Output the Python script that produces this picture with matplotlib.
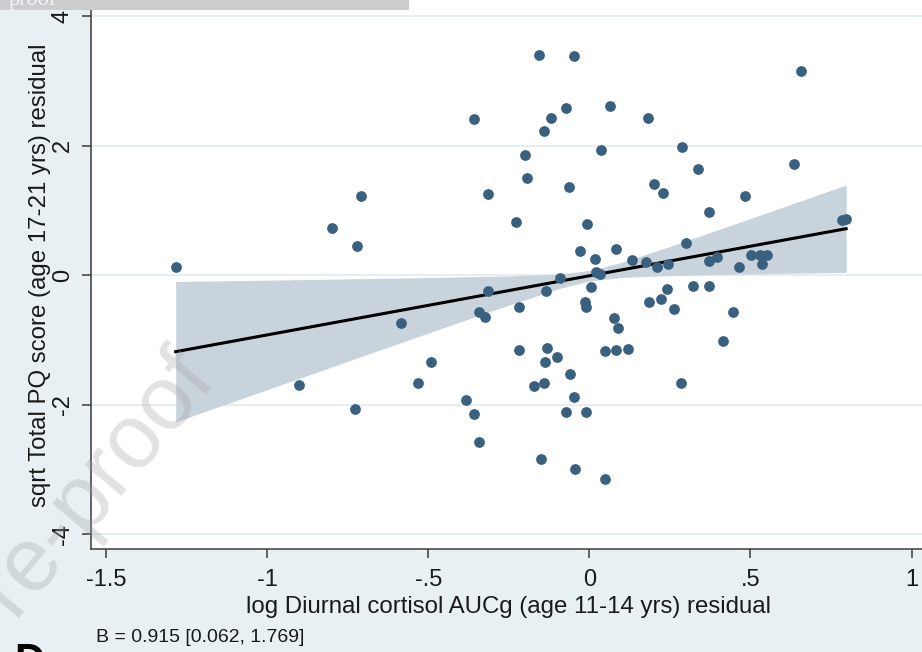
import matplotlib.pyplot as plt
from matplotlib.patches import Rectangle

plt.rcParams['font.family'] = ['Liberation Sans', 'DejaVu Sans']

# residuals
x = [-1.285, -0.800, -0.722, -0.710, -0.585, -0.901, -0.729, -0.533, -0.491,
     -0.158, -0.049, 0.658, -0.359, -0.119, -0.073, 0.065, 0.183, -0.142,
     -0.201, 0.037, 0.287, 0.336, 0.636, -0.195, -0.316, -0.065, 0.199,
     0.227, 0.483, -0.229, -0.009, 0.372, 0.784, 0.797, 0.299, -0.031,
     0.081, 0.016, 0.133, 0.175, 0.209, 0.245, 0.372, 0.395, 0.464, 0.502,
     0.530, 0.552, 0.536, 0.019, 0.033, -0.092, -0.314, -0.134, 0.004,
     0.240, 0.320, 0.372, 0.186, 0.221, 0.263, 0.447, -0.014, -0.012,
     -0.219, -0.342, -0.325, 0.077, 0.088, 0.416, -0.218, -0.131, -0.100,
     -0.137, 0.047, 0.082, 0.120, -0.061, 0.284, -0.171, -0.142, -0.384,
     -0.048, -0.360, -0.074, -0.011, -0.342, -0.152, -0.045, 0.049]
y = [0.133, 0.735, 0.453, 1.225, -0.741, -1.699, -2.069, -1.663, -1.344,
     3.402, 3.382, 3.155, 2.409, 2.429, 2.579, 2.619, 2.425, 2.224,
     1.853, 1.935, 1.981, 1.642, 1.719, 1.503, 1.251, 1.364, 1.415,
     1.266, 1.225, 0.823, 0.788, 0.978, 0.854, 0.869, 0.499, 0.368,
     0.402, 0.247, 0.236, 0.198, 0.133, 0.175, 0.225, 0.290, 0.125, 0.314,
     0.306, 0.314, 0.178, 0.046, 0.023, -0.049, -0.238, -0.242, -0.176,
     -0.216, -0.165, -0.173, -0.420, -0.369, -0.528, -0.562, -0.415, -0.493,
     -0.497, -0.562, -0.639, -0.664, -0.814, -1.010, -1.158, -1.127, -1.262,
     -1.334, -1.164, -1.154, -1.143, -1.529, -1.668, -1.705, -1.663, -1.921,
     -1.884, -2.137, -2.111, -2.111, -2.570, -2.842, -2.996, -3.146]

# fitted line and its confidence band
fit_x = [-1.285, 0.797]
fit_y = [-1.18, 0.72]
ci_x = [-1.285, -1.0, -0.75, -0.5, -0.25, -0.1, 0.0, 0.1, 0.25, 0.5, 0.797]
ci_hi = [-0.096, -0.075, -0.055, -0.035, -0.010, 0.018, 0.073, 0.200, 0.446, 0.877, 1.395]
ci_lo = [-2.264, -1.765, -1.327, -0.891, -0.460, -0.214, -0.087, -0.032, -0.004, 0.021, 0.045]

xticks = [-1.5, -1, -0.5, 0, 0.5, 1]
xticklabels = ['-1.5', '-1', '-.5', '0', '.5', '1']
yticks = [-4, -2, 0, 2, 4]
yticklabels = ['-4', '-2', '0', '2', '4']

bg = '#e8f0f3'
W, H = 922, 652
fig = plt.figure(figsize=(W / 100, H / 100), dpi=100, facecolor=bg)
ax = fig.add_axes([91 / W, 102.7 / H, 1 - 91 / W, 1 - 102.7 / H])
ax.set_facecolor('white')

ax.fill_between(ci_x, ci_lo, ci_hi, color='#c9d3dc', linewidth=0, zorder=2)
ax.plot(fit_x, fit_y, color='black', linewidth=2.2, zorder=3)
ax.scatter(x, y, s=60, color='#3a6080', linewidths=0, zorder=4)

ax.set_xlim(-1.548, 1.0326)
ax.set_ylim(-4.232, 4.252)
ax.set_xticks(xticks)
ax.set_xticklabels(xticklabels)
ax.set_yticks(yticks)
ax.set_yticklabels(yticklabels, rotation=90, va='center')
for yy in yticks:
    ax.axhline(yy, color='#e6eef2', linewidth=1.5, zorder=1)

for side in ['top', 'right']:
    ax.spines[side].set_visible(False)
for side in ['left', 'bottom']:
    ax.spines[side].set_color('#3a3a3a')
    ax.spines[side].set_linewidth(1.1)
ax.tick_params(direction='out', length=6.5, width=1.1, color='#3a3a3a',
               labelsize=17, labelcolor='#1a1a1a')
ax.tick_params(axis='x', pad=8)
ax.tick_params(axis='y', pad=6)

fig.text(508 / W, 1 - 607 / H, 'log Diurnal cortisol AUCg (age 11-14 yrs) residual',
         ha='center', va='center', fontsize=17.3, color='#1a1a1a')
fig.text(40 / W, 1 - 275 / H, 'sqrt Total PQ score (age 17-21 yrs) residual',
         ha='center', va='center', rotation=90, fontsize=17.3, color='#1a1a1a')
fig.text(96 / W, 1 - 637 / H, 'B = 0.915 [0.062, 1.769]',
         ha='left', va='center', fontsize=14, color='#1a1a1a')
fig.text(14 / W, (H - 673) / H, 'D', ha='left', va='baseline',
         fontsize=30, fontweight='bold', color='black')

# proof strip and watermark
fig.patches.append(Rectangle((0, 1 - 9.5 / H), 409 / W, 9.5 / H, transform=fig.transFigure,
                             facecolor='#cccccd', edgecolor='none', zorder=10))
fig.text(9 / W, 1 - 5 / H, 'proof', ha='left', va='baseline', fontsize=16,
         family='Liberation Serif', color='#f5f5f5', zorder=11)
fig.text(97 / W, 1 - 482 / H, 're-proof', ha='center', va='center', rotation=50,
         rotation_mode='anchor', fontsize=65, color='#a0a0a0', alpha=0.3, zorder=12)

fig.savefig('out.png', dpi=100, facecolor=bg)
